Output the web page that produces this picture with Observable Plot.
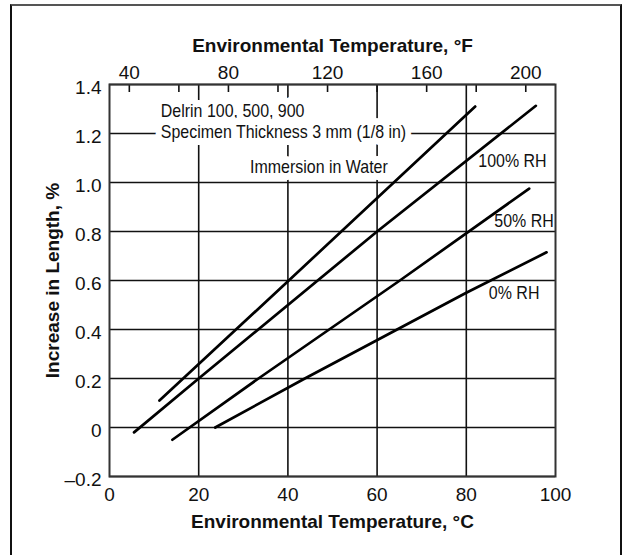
<!DOCTYPE html>
<html><head><meta charset="utf-8">
<script src="https://cdn.jsdelivr.net/npm/d3@7"></script>
<script src="https://cdn.jsdelivr.net/npm/@observablehq/plot@0.6"></script>
<style>
body{margin:0;background:#fff;}
#wrap{position:relative;width:624px;height:555px;overflow:hidden;background:#fff;}
#box{position:absolute;left:10px;top:4px;width:608px;height:600px;border:2px solid #111;border-top-color:#555;}
#chart{position:absolute;left:0;top:0;}
</style></head><body><div id="wrap"><div id="box"></div><div id="chart"></div></div>
<script>
// ---- data ----
const immersionC   = [11.2, 40.2, 82.0];
const immersionPct = [0.11, 0.60, 1.31];
const rh100C   = [5.5, 20, 60, 95.6];
const rh100Pct = [-0.02, 0.20, 0.80, 1.313];
const rh50C    = [14.1, 33.4, 65.1, 94.1];
const rh50Pct  = [-0.05, 0.20, 0.60, 0.975];
const rh0C     = [23.7, 43.8, 80.0, 98.0];
const rh0Pct   = [0.0, 0.20, 0.55, 0.715];

const cTicks = [0, 20, 40, 60, 80, 100];
const cGrid = [20, 40, 60, 80];
const yTicks = [-0.2, 0, 0.2, 0.4, 0.6, 0.8, 1.0, 1.2, 1.4];
const fTicks = [40, 60, 80, 100, 120, 140, 160, 180, 200];
const fLabels = [40, 80, 120, 160, 200];

const annText = ["Delrin 100, 500, 900", "Specimen Thickness 3 mm (1/8 in)", "Immersion in Water", "100% RH", "50% RH", "0% RH"];
const annC    = [11.5, 11.5, 31.5, 98.0, 99.6, 96.4];
const annPct  = [1.294, 1.208, 1.065, 1.09, 0.845, 0.551];
const annAnchor = ["start", "start", "start", "end", "end", "end"];

const xTitleC = "Environmental Temperature, °C";
const xTitleF = "Environmental Temperature, °F";
const yTitle  = "Increase in Length, %";

// ---- build tables ----
const toC = f => (f - 32) * 5 / 9;
const series = [
  {name: "Immersion in Water", c: immersionC, v: immersionPct},
  {name: "100% RH", c: rh100C, v: rh100Pct},
  {name: "50% RH", c: rh50C, v: rh50Pct},
  {name: "0% RH", c: rh0C, v: rh0Pct}
];
const rows = series.flatMap(s => s.c.map((c, i) => ({series: s.name, c, v: s.v[i]})));
const ann = annText.map((t, i) => ({t, c: annC[i], v: annPct[i], a: annAnchor[i]}));

const yFmt = d => d < 0 ? "\u2013" + Math.abs(d).toFixed(1) : d === 0 ? "0" : d.toFixed(1);
const titleStyle = {fontWeight: "bold", fontSize: 19, fill: "#111", textAnchor: "middle", lineAnchor: "middle"};

const chart = Plot.plot({
  width: 624, height: 555,
  marginLeft: 109, marginRight: 69, marginTop: 84, marginBottom: 79,
  style: {fontFamily: "'Liberation Sans', Arial, sans-serif", fontSize: "19px", color: "#111", background: "transparent"},
  x: {domain: [0, 100]},
  y: {domain: [-0.2, 1.4]},
  marks: [
    Plot.gridX(cGrid, {stroke: "#111", strokeOpacity: 1, strokeWidth: 1.6}),
    Plot.gridY(yTicks, {stroke: "#111", strokeOpacity: 1, strokeWidth: 1.6}),
    Plot.axisX(fTicks.map(toC), {anchor: "top", tickSize: -7, tickFormat: () => "", stroke: "#111", strokeWidth: 1.6, label: null}),
    // left-hand notes sit on a white block that interrupts the grid
    Plot.text(ann.filter(d => d.a === "start"), {
      x: "c", y: "v", text: "t", textAnchor: "start",
      fontSize: 19, fill: "#111", stroke: "white", strokeWidth: 14
    }),
    Plot.text(ann.filter(d => d.a === "end"), {
      x: "c", y: "v", text: "t", textAnchor: "end", fontSize: 19, fill: "#111"
    }),
    Plot.line(rows, {x: "c", y: "v", z: "series", stroke: "#000", strokeWidth: 2.7}),
    Plot.frame({stroke: "#333", strokeWidth: 2}),
    Plot.axisY(yTicks, {tickSize: 0, tickPadding: 8, tickFormat: yFmt, dy: 3, label: null}),
    Plot.axisX(cTicks, {anchor: "bottom", tickSize: 0, tickPadding: 11, label: null}),
    Plot.axisX(fLabels.map(toC), {anchor: "top", tickSize: 0, tickPadding: 6, label: null, tickFormat: c => String(Math.round(c * 9 / 5 + 32))}),
    Plot.text([xTitleC], {frameAnchor: "bottom", dy: 45, ...titleStyle}),
    Plot.text([xTitleF], {frameAnchor: "top", dy: -39, ...titleStyle}),
    Plot.text([yTitle], {frameAnchor: "left", rotate: -90, dx: -57, ...titleStyle})
  ]
});
document.getElementById("chart").appendChild(chart);
// condensed look for the in-plot annotations (no condensed font installed)
const annSet = new Set(annText);
chart.querySelectorAll("text").forEach(t => {
  if (!annSet.has(t.textContent)) return;
  const w = t.getComputedTextLength();
  if (w > 0) {
    t.setAttribute("textLength", (w * 0.84).toFixed(1));
    t.setAttribute("lengthAdjust", "spacingAndGlyphs");
  }
});
</script>
</body></html>
